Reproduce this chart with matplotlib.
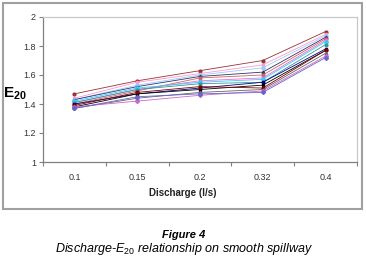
import matplotlib
matplotlib.use("Agg")
import matplotlib.pyplot as plt
from matplotlib.patches import Rectangle

plt.rcParams['font.family'] = ['Liberation Sans', 'DejaVu Sans']
plt.rcParams['mathtext.fontset'] = 'custom'
plt.rcParams['mathtext.rm'] = 'Liberation Sans'
plt.rcParams['mathtext.it'] = 'Liberation Sans:italic'
plt.rcParams['mathtext.bf'] = 'Liberation Sans:bold'

# kategori debit (l/s)
debit = ["0.1", "0.15", "0.2", "0.32", "0.4"]

# nilai E20 tiap seri
s01 = [1.47, 1.56, 1.63, 1.70, 1.90]
s02 = [1.44, 1.55, 1.61, 1.67, 1.88]
s03 = [1.43, 1.53, 1.60, 1.65, 1.87]
s04 = [1.43, 1.52, 1.59, 1.62, 1.86]
s05 = [1.40, 1.49, 1.58, 1.60, 1.85]
s06 = [1.41, 1.50, 1.56, 1.58, 1.84]
s07 = [1.42, 1.51, 1.55, 1.57, 1.83]
s08 = [1.41, 1.50, 1.54, 1.55, 1.81]
s09 = [1.40, 1.47, 1.51, 1.55, 1.78]
s10 = [1.38, 1.47, 1.50, 1.53, 1.77]
s11 = [1.39, 1.48, 1.52, 1.51, 1.77]
s12 = [1.37, 1.44, 1.48, 1.50, 1.75]
s13 = [1.38, 1.42, 1.46, 1.49, 1.73]
s14 = [1.37, 1.45, 1.47, 1.48, 1.72]

semua_seri = [s01, s02, s03, s04, s05, s06, s07, s08, s09, s10, s11, s12, s13, s14]
warna = ['#993333', '#ff99cc', '#99ccff', '#333366', '#cc6666', '#ff66cc',
         '#33ccff', '#339999', '#000080', '#000000', '#800000', '#666666',
         '#cc66cc', '#6666cc']
marker = ['o', 's', 'D', '^', 'o', 's', 'D', 'o', 's', 's', 'o', '^', 'D', 'D']

W, H = 366, 257
fig = plt.figure(figsize=(W / 100, H / 100), dpi=100)

# bingkai luar area chart
fig.patches.append(Rectangle((3 / W, 1 - 209 / H), 359 / W, 206 / H,
                             transform=fig.transFigure, fill=False,
                             edgecolor='#a0a0a0', linewidth=1.5))

ax = fig.add_axes([43 / W, 1 - 162 / H, 314 / W, 145 / H])
x = list(range(len(debit)))
for y, c, m in zip(semua_seri, warna, marker):
    ax.plot(x, y, color=c, linewidth=0.6, marker=m, markersize=2,
            markerfacecolor=c, markeredgecolor=c)

ax.set_xlim(-0.5, len(debit) - 0.5)
ax.set_ylim(1, 2)
ax.set_yticks([1, 1.2, 1.4, 1.6, 1.8, 2])
ax.set_yticklabels(["1", "1.2", "1.4", "1.6", "1.8", "2"])
ax.set_xticks(x)
ax.set_xticklabels(debit)
ax.set_xticks([i - 0.5 for i in range(len(debit) + 1)], minor=True)
ax.tick_params(axis='x', which='major', length=0, labelsize=6.5, pad=8, colors='#333333')
ax.tick_params(axis='x', which='minor', length=3, width=0.8, color='#808080')
ax.tick_params(axis='y', length=3, width=0.8, color='#808080', labelsize=6.5, pad=2,
               labelcolor='#333333')

for s in ['left', 'bottom']:
    ax.spines[s].set_color('#808080')
    ax.spines[s].set_linewidth(0.9)
for s in ['top', 'right']:
    ax.spines[s].set_color('#c8c8c8')
    ax.spines[s].set_linewidth(0.9)

fig.text(15 / W, 1 - 94 / H, r'$\mathbf{E}_{\mathbf{20}}$', fontsize=11,
         ha='center', va='center')
fig.text(183 / W, 1 - 193 / H, 'Discharge (l/s)', fontsize=7, fontweight='bold',
         ha='center', va='center', color='#222222')

fig.text(184 / W, 1 - 235 / H, 'Figure 4', fontsize=8, fontweight='bold',
         style='italic', ha='center', va='center')
fig.text(184 / W, 1 - 249 / H, r'Discharge-$\mathit{E}_{\mathit{20}}$ relationship on smooth spillway',
         fontsize=9, style='italic', ha='center', va='center')

fig.savefig('out.png', dpi=100)
